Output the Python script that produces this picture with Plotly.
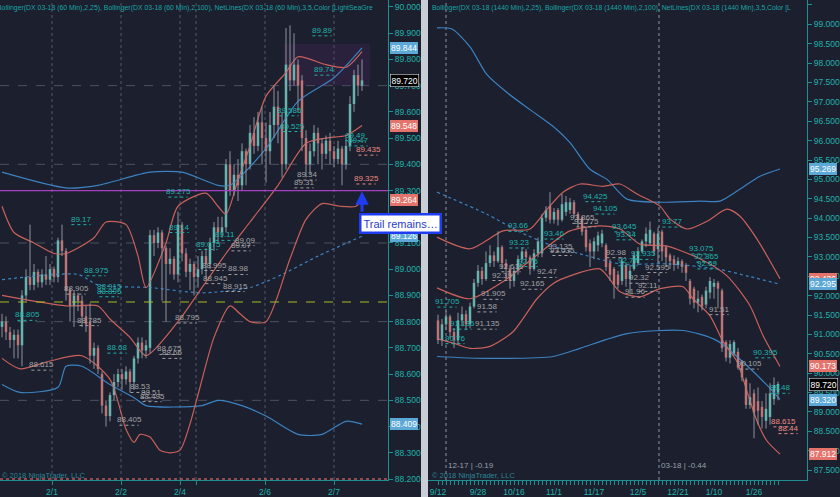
import plotly.graph_objects as go

# ---------------- LEFT PANEL DATA (DX 03-18, 60 Min) ----------------
L_open = [88.78,88.80,88.76,88.73,88.75,88.71,88.90,88.97,88.94,88.99,
          88.95,88.98,88.96,89.00,88.97,89.11,89.07,88.92,88.86,88.90,
          88.88,88.82,88.80,88.67,88.70,88.60,88.48,88.44,88.52,88.57,
          88.60,88.58,88.61,88.57,88.66,88.72,88.69,88.70,89.13,89.10,
          89.14,89.08,89.02,89.04,88.98,89.17,89.06,88.99,89.02,88.97,
          89.00,89.05,89.02,89.10,89.16,89.14,89.16,89.40,89.30,89.36,
          89.32,89.45,89.40,89.52,89.47,89.56,89.50,89.45,89.55,89.62,
          89.55,89.40,89.78,89.72,89.78,89.72,89.50,89.40,89.45,89.52,
          89.48,89.44,89.49,89.45,89.42,89.46,89.40,89.47,89.63,89.74,
          89.70]
L_high = [88.83,88.82,88.78,88.77,88.77,88.92,89.00,89.17,89.02,89.00,
          89.00,89.05,89.02,89.01,89.12,89.17,89.08,88.93,88.92,88.91,
          88.90,88.86,88.87,88.72,88.71,88.61,88.50,88.53,88.60,88.62,
          88.62,88.63,88.62,88.67,88.74,88.74,88.73,89.15,89.15,89.16,
          89.15,89.09,89.08,89.05,89.22,89.18,89.08,89.04,89.03,89.05,
          89.07,89.08,89.12,89.18,89.20,89.20,89.42,89.45,89.40,89.42,
          89.48,89.46,89.55,89.58,89.60,89.62,89.56,89.60,89.70,89.68,
          89.60,89.92,89.93,89.90,89.80,89.74,89.53,89.48,89.55,89.54,
          89.50,89.51,89.52,89.47,89.49,89.47,89.50,89.66,89.76,89.78,
          89.80]
L_low = [88.74,88.73,88.70,88.66,88.66,88.63,88.88,88.92,88.92,88.93,
         88.93,88.94,88.94,88.95,88.95,89.05,88.88,88.80,88.78,88.84,
         88.78,88.76,88.64,88.62,88.60,88.45,88.40,88.42,88.50,88.55,
         88.54,88.56,88.53,88.54,88.64,88.66,88.66,88.68,89.05,89.08,
         88.88,88.80,88.98,88.96,88.95,89.03,88.97,88.92,88.90,88.93,
         88.98,88.96,89.00,89.07,89.10,89.12,89.14,89.28,89.28,89.26,
         89.30,89.32,89.38,89.44,89.45,89.40,89.33,89.40,89.50,89.48,
         89.35,89.38,89.68,89.70,89.60,89.45,89.35,89.36,89.43,89.40,
         89.38,89.42,89.40,89.39,89.40,89.32,89.38,89.45,89.60,89.66,
         89.68]
L_close = [88.80,88.76,88.73,88.75,88.71,88.90,88.97,88.94,88.99,88.95,
           88.98,88.96,89.00,88.97,89.11,89.07,88.92,88.86,88.90,88.88,
           88.82,88.79,88.67,88.70,88.62,88.48,88.44,88.52,88.57,88.60,
           88.58,88.61,88.57,88.66,88.72,88.69,88.71,89.13,89.10,89.14,
           89.08,89.02,89.04,88.98,89.17,89.06,88.99,89.02,88.97,89.00,
           89.05,89.02,89.10,89.16,89.14,89.16,89.40,89.30,89.36,89.32,
           89.45,89.40,89.52,89.47,89.56,89.50,89.45,89.55,89.62,89.55,
           89.40,89.78,89.72,89.78,89.70,89.50,89.40,89.45,89.52,89.48,
           89.44,89.49,89.45,89.42,89.46,89.40,89.47,89.63,89.74,89.70,
           89.72]

# Bollinger(25) upper / middle / lower, Bollinger(100) upper / middle / lower
L_bb25u_x = [0,3,8,13,16,23,26,31,34,36,41,44,51,54,56,59,62,66,71,74,81,86,90]
L_bb25u_y = [89.24,89.14,89.10,89.06,89.06,89.12,89.18,89.17,89.05,88.93,89.10,89.24,
             89.29,89.24,89.21,89.34,89.47,89.66,89.75,89.81,89.78,89.77,89.83]
L_bb25m_x = [0,16,24,27,32,36,44,50,56,62,69,76,81,86,90]
L_bb25m_y = [88.90,88.86,88.86,88.81,88.74,88.67,88.80,88.93,89.06,89.18,89.32,89.48,89.50,89.51,89.548]
L_bb25l_x = [0,4.5,12,20,27,31,33,34.5,37,39.5,42,44.5,47,49.5,53,57,59.5,62,66,72,76,80,84.5,88.5,90]
L_bb25l_y = [88.66,88.62,88.65,88.67,88.58,88.39,88.34,88.37,88.36,88.31,88.30,88.31,88.41,
             88.55,88.74,88.86,88.83,88.80,88.80,89.04,89.19,89.25,89.24,89.24,89.264]
L_bb100u_x = [0,16,24,37,45,54,57,66,74,83,90]
L_bb100u_y = [89.37,89.31,89.32,89.37,89.37,89.32,89.32,89.46,89.64,89.73,89.844]
L_bb100m_x = [0,19,24,37,50,62,70,79,90]
L_bb100m_y = [88.96,88.98,88.94,88.93,88.91,88.93,88.98,89.05,89.126]
L_bb100l_x = [0,4.5,14,16,20,27,33,36,50,54,60,66,74,80,86,90]
L_bb100l_y = [88.56,88.53,88.55,88.63,88.63,88.56,88.51,88.48,88.48,88.50,88.48,88.44,
              88.37,88.37,88.42,88.409]

L_levels_grid = [89.7, 89.4, 89.1, 88.8, 88.5]
L_trail = 89.30
L_yellow = 88.875
L_red_floor = 88.20

L_tick_pos = [12.5, 29.75, 44.5, 48.5, 65.75, 83]
L_tick_txt = ["2/1", "2/2", "2/4", "", "2/6", "2/7"]

L_lbl_text = ["89.89","89.74","89.585","89.525","89.49","89.47","89.275","89.17","89.14","89.11",
              "89.075","88.975","88.915","88.895","88.805","88.68",
              "89.34","89.31","89.09","89.07","88.98","88.995","88.945","88.915","88.905","88.785",
              "88.795","88.615","88.675","88.66","88.53","88.51","88.495","88.405",
              "89.435","89.325"]
L_lbl_x = [80,80.5,71.75,72.5,88.25,89,44,19.75,44.25,55.75,
           51.5,23.5,26.75,26.75,6.25,28.75,
           76.25,75.5,60.75,59.75,59,53,53.25,58.25,18.5,21.75,
           46.25,9.75,41.75,42.5,34.5,37.25,37.5,31.75,
           91.5,91]
L_lbl_kind = ["t"]*16 + ["g"]*18 + ["s"]*2

L_tag_val = [89.844, 89.720, 89.548, 89.264, 89.126, 88.409]
L_tag_kind = ["b", "k", "s", "s", "b", "b"]

# ---------------- RIGHT PANEL DATA (DX 03-18, 1440 Min) ----------------
R_open = [91.36,90.85,91.26,91.46,91.06,90.85,91.36,91.52,91.26,91.72,
          92.33,92.64,92.43,92.84,93.04,92.89,93.25,92.84,92.69,92.38,
          92.64,92.94,93.14,92.99,92.69,93.09,93.09,94.01,94.31,93.96,
          94.21,93.96,94.16,94.21,94.41,94.11,94.01,93.70,93.35,93.14,
          93.30,93.35,93.30,92.84,92.69,92.54,92.38,92.79,92.43,92.69,
          92.84,93.14,93.40,93.35,93.60,93.20,93.65,93.25,93.04,92.94,
          92.79,92.89,92.79,92.38,92.18,91.82,91.97,91.77,92.08,92.23,
          92.33,92.13,90.80,90.40,90.50,90.55,90.29,89.84,89.18,89.48,
          89.28,89.13,88.77,88.87,89.33,89.50]
R_high = [91.51,91.40,91.61,91.51,91.16,91.56,91.72,91.62,91.82,92.43,
          92.79,92.74,93.14,93.30,93.14,93.66,93.30,92.94,92.79,92.74,
          93.04,93.25,93.20,93.04,93.20,93.50,94.11,94.31,94.67,94.26,
          94.26,94.62,94.57,94.52,94.47,94.16,94.06,93.76,93.45,93.50,
          93.65,93.70,93.35,92.94,92.74,92.64,92.99,92.84,92.79,93.14,
          93.25,93.45,93.76,93.91,93.65,93.76,93.70,93.30,93.09,93.04,
          92.99,92.94,92.84,92.43,92.23,92.13,92.03,92.23,92.48,92.43,
          92.38,92.18,90.85,90.85,90.85,90.65,90.34,89.89,89.74,89.58,
          89.63,89.28,89.48,89.74,89.89,89.78]
R_low = [90.75,90.70,91.11,90.90,90.65,90.75,91.21,91.11,91.16,91.67,
         92.23,92.28,92.38,92.74,92.74,92.84,92.69,92.43,92.18,92.23,
         92.54,92.84,92.84,92.54,92.64,92.99,92.99,93.91,93.86,93.86,
         93.81,93.91,94.06,94.11,94.01,93.76,93.55,93.14,92.74,92.94,
         93.14,93.25,92.64,92.38,91.92,92.18,92.28,92.23,92.03,92.64,
         92.79,93.09,93.25,93.30,93.04,92.84,92.89,92.74,92.69,92.64,
         92.69,92.59,92.38,91.77,91.67,91.57,91.62,91.67,91.92,91.92,
         91.67,90.55,90.30,90.25,90.45,90.09,89.79,89.08,89.08,88.32,
         88.67,88.57,88.57,88.67,89.18,89.30]
R_close = [90.85,91.26,91.46,91.06,90.85,91.36,91.52,91.26,91.72,92.33,
           92.64,92.43,92.84,93.04,92.89,93.25,92.84,92.69,92.38,92.64,
           92.94,93.14,92.99,92.69,93.09,93.40,94.01,94.21,93.96,94.16,
           93.96,94.36,94.41,94.41,94.11,93.96,93.65,93.25,93.14,93.40,
           93.55,93.60,92.74,92.54,92.28,92.28,92.89,92.43,92.64,93.04,
           93.14,93.40,93.60,93.70,93.14,93.60,93.14,92.99,92.89,92.79,
           92.89,92.74,92.59,91.92,91.82,91.92,91.72,92.13,92.38,92.33,
           92.18,90.65,90.40,90.75,90.80,90.14,89.89,89.18,89.38,88.98,
           89.03,88.87,89.08,89.48,89.69,89.72]
R_first_bar = 2

R_bb25u_x = [1.75,10,18.25,25,29.25,33.25,37.5,43.25,47.5,51.75,57.5,60,64.25,69.25,74.25,77.5,81.75,87.5]
R_bb25u_y = [93.51,93.21,93.67,93.72,94.23,94.67,94.88,94.82,94.88,94.62,94.31,93.98,93.72,
             93.92,94.23,94.05,93.46,92.436]
R_bb25m_x = [1.75,10,18.25,26.75,35,42.5,47.5,52.5,59.25,67.5,74.25,80,83.25,87.5]
R_bb25m_y = [92.20,91.92,92.36,93.05,93.67,93.80,93.72,93.33,93.28,92.95,92.51,91.74,90.97,90.173]
R_bb25l_x = [1.75,6.25,10,15,20.75,26.75,30.75,35,42.5,47.5,52.5,57.5,63.25,65.75,70,73.25,
             76.75,79.25,81.75,84.25,87.5]
R_bb25l_y = [90.89,90.76,90.64,90.69,91.07,91.92,92.31,92.51,92.69,92.10,91.97,92.18,92.23,
             91.92,91.48,90.82,90.30,89.53,88.76,88.25,87.912]
R_bb100u_x = [1.75,5.5,10,14.25,19.25,25,30.75,35,40,44.25,49.25,57.5,67.5,72.5,77.5,82.5,87.5]
R_bb100u_y = [98.91,98.88,98.42,97.70,97.24,96.80,96.37,95.95,95.26,95.00,94.49,94.41,94.44,
              94.44,94.75,95.08,95.269]
R_bb100m_x = [1.75,14.25,22.5,30.75,39.25,47.5,59.25,71.75,80,87.5]
R_bb100m_y = [94.67,94.10,93.64,93.28,93.03,92.82,92.82,92.69,92.49,92.295]
R_bb100l_x = [1.75,14.25,30.75,37.5,49.25,63.25,71.75,80,84.25,87.5]
R_bb100l_y = [90.43,90.38,90.43,90.64,91.02,91.10,90.84,90.12,89.69,89.32]

R_tick_pos = [2, 12, 21, 31, 41, 52, 62, 71, 81]
R_tick_txt = ["9/12", "9/28", "10/16", "11/1", "11/17", "12/5", "12/21", "1/10", "1/26"]
R_roll_pos = [4, 57.25]
R_roll_txt = ["12-17 | -0.19", "03-18 | -0.44"]

R_lbl_text = ["94.425","94.105","93.66","93.46","93.645","93.44","93.23","92.935","92.77","91.705",
              "93.77","93.075","92.865","92.69","90.395","89.48","92.75","91.135","90.76",
              "93.865","93.775","93.135","93.035","92.98","92.615","92.39","92.47","92.165","92.32",
              "92.11","91.96","92.595","91.905","91.58","91.135","91.51","90.105",
              "88.615","88.44"]
R_lbl_x = [41.25,43.75,22,31,48.5,49,22.25,53.25,49.5,4.25,
           60.5,67.75,69,69.25,83.75,87.5,24.5,8,6.25,
           38,39,32.5,33,46.5,20.25,18,29.25,25.5,52.25,
           54.5,51.25,56.75,15.75,14.25,14.25,72.25,79.75,
           88.25,89.5]
R_lbl_kind = ["t"]*19 + ["g"]*18 + ["s"]*2

R_tag_val = [95.269, 92.436, 92.295, 90.173, 89.720, 89.320, 87.912]
R_tag_kind = ["b", "s", "b", "s", "k", "b", "s"]

# ---------------- STYLE ----------------
BG = "#1b1f2e"
TEAL = "#20b2aa"
AXC = "#1f8f8f"
GRAYTXT = "#a3a3a3"
SALMON = "#ec8a84"
UP = "#4fcdbd"
DOWN = "#dc5f5c"
WICK = "#8d939b"
RED_BB = "#c9615b"
BLUE_BB = "#3c82c0"
FONT = "Liberation Sans, Arial, sans-serif"
W, H = 840, 497
LBL_COL = {"t": TEAL, "g": GRAYTXT, "s": SALMON}
TAG_COL = {"b": "#5ca8d6", "s": "#e4736c", "k": "#000000"}

fig = go.Figure()


def add_panel(xs, o, h, l, c, xa, ya):
    wx, wy = [], []
    for xi, hi, lo in zip(xs, h, l):
        wx += [xi, xi, None]
        wy += [lo, hi, None]
    fig.add_trace(go.Scatter(x=wx, y=wy, mode="lines", line=dict(color=WICK, width=1),
                             xaxis=xa, yaxis=ya, hoverinfo="skip"))
    cols = [UP if ci >= oi else DOWN for oi, ci in zip(o, c)]
    fig.add_trace(go.Bar(x=xs, y=[ci - oi for oi, ci in zip(o, c)], base=o, width=0.62,
                         marker=dict(color=cols, line=dict(width=0)), xaxis=xa, yaxis=ya,
                         hoverinfo="skip"))


def add_line(x, y, color, xa, ya, dash="solid", width=1.2):
    fig.add_trace(go.Scatter(x=x, y=y, mode="lines",
                             line=dict(color=color, width=width, dash=dash, shape="spline", smoothing=0.7),
                             xaxis=xa, yaxis=ya, hoverinfo="skip"))


# ----- lines first -----
add_line(L_bb100u_x, L_bb100u_y, BLUE_BB, "x", "y")
add_line(L_bb100m_x, L_bb100m_y, BLUE_BB, "x", "y", dash="dot")
add_line(L_bb100l_x, L_bb100l_y, BLUE_BB, "x", "y")
add_line(L_bb25u_x, L_bb25u_y, RED_BB, "x", "y")
add_line(L_bb25m_x, L_bb25m_y, RED_BB, "x", "y")
add_line(L_bb25l_x, L_bb25l_y, RED_BB, "x", "y")

add_line(R_bb100u_x, R_bb100u_y, BLUE_BB, "x2", "y2")
add_line(R_bb100m_x, R_bb100m_y, BLUE_BB, "x2", "y2", dash="dot")
add_line(R_bb100l_x, R_bb100l_y, BLUE_BB, "x2", "y2")
add_line(R_bb25u_x, R_bb25u_y, RED_BB, "x2", "y2")
add_line(R_bb25m_x, R_bb25m_y, RED_BB, "x2", "y2")
add_line(R_bb25l_x, R_bb25l_y, RED_BB, "x2", "y2")

L_x = list(range(len(L_close)))
R_x = list(range(R_first_bar, R_first_bar + len(R_close)))
add_panel(L_x, L_open, L_high, L_low, L_close, "x", "y")
add_panel(R_x, R_open, R_high, R_low, R_close, "x2", "y2")

shapes = []
annos = []

# ----- left panel reference lines -----
for lv in L_levels_grid:
    shapes.append(dict(type="line", xref="x domain", yref="y", x0=0, x1=1, y0=lv, y1=lv,
                       line=dict(color="#4d5262", width=1, dash="dash"), layer="below"))
for tp in L_tick_pos:
    shapes.append(dict(type="line", xref="x", yref="y domain", x0=tp, x1=tp, y0=0, y1=1,
                       line=dict(color="#555b6b", width=1, dash="dot"), layer="below"))
shapes.append(dict(type="line", xref="x domain", yref="y", x0=0, x1=1, y0=L_trail, y1=L_trail,
                   line=dict(color="#a43fbf", width=1.3)))
shapes.append(dict(type="line", xref="x domain", yref="y", x0=0, x1=1, y0=L_yellow, y1=L_yellow,
                   line=dict(color="#a9bb22", width=1, dash="dash")))
shapes.append(dict(type="line", xref="x domain", yref="y", x0=0, x1=1, y0=L_red_floor, y1=L_red_floor,
                   line=dict(color="#b65a5a", width=1.5, dash="dot")))
# faint NetLines zone
shapes.append(dict(type="rect", xref="x", yref="y", x0=70.5, x1=92, y0=89.70, y1=89.86,
                   fillcolor="rgba(95,45,120,0.22)", line=dict(width=0), layer="below"))

# ----- right panel rollover lines -----
for rp in R_roll_pos:
    shapes.append(dict(type="line", xref="x2", yref="y2 domain", x0=rp, x1=rp, y0=0, y1=1,
                       line=dict(color="#8e95a3", width=1, dash="dot"), layer="below"))
for rp, rt in zip(R_roll_pos, R_roll_txt):
    annos.append(dict(xref="x2", yref="y2 domain", x=rp, y=0.031, text=rt, showarrow=False,
                      xanchor="left", yanchor="middle", font=dict(family=FONT, size=8, color="#9aa0a8")))


# ----- NetLines level labels -----
def add_labels(texts, xs, kinds, xr, yr):
    for t, xv, k in zip(texts, xs, kinds):
        v = float(t)
        col = LBL_COL[k]
        annos.append(dict(xref=xr, yref=yr, x=xv, y=v, text=t, showarrow=False,
                          xanchor="center", yanchor="bottom", yshift=-1,
                          font=dict(family=FONT, size=8, color=col)))
        shapes.append(dict(type="line", xref=xr, yref=yr, x0=xv - 2.4, x1=xv + 2.4, y0=v, y1=v,
                           line=dict(color=col, width=1, dash="dot")))


add_labels(L_lbl_text, L_lbl_x, L_lbl_kind, "x", "y")
add_labels(R_lbl_text, R_lbl_x, R_lbl_kind, "x2", "y2")


# ----- price tags on the axes -----
def add_tags(vals, kinds, xpix, yr):
    for v, k in zip(vals, kinds):
        annos.append(dict(xref="paper", yref=yr, x=xpix / W, y=v, text=f"{v:.3f}", showarrow=False,
                          xanchor="left", yanchor="middle", bgcolor=TAG_COL[k],
                          bordercolor="#ffffff" if k == "k" else TAG_COL[k], borderwidth=0.5 if k == "k" else 0,
                          borderpad=1, font=dict(family=FONT, size=8.5, color="#ffffff")))


add_tags(L_tag_val, L_tag_kind, 390, "y")
add_tags(R_tag_val, R_tag_kind, 809, "y2")

# ----- separator between the two panels -----
shapes.append(dict(type="rect", xref="paper", yref="paper", x0=421 / W, x1=428 / W, y0=-0.04, y1=1.0,
                   fillcolor="#c9ced6", line=dict(width=0), layer="above"))

# ----- headers / copyright -----
annos.append(dict(xref="paper", yref="paper", x=-5 / W, y=1, yshift=-2, xanchor="left", yanchor="top",
                  text="Bollinger(DX 03-18 (60 Min),2,25), Bollinger(DX 03-18 (60 Min),2,100), "
                       "NetLines(DX 03-18 (60 Min),3,5,Color [LightSeaGre",
                  showarrow=False, font=dict(family=FONT, size=6.9, color="#1aa5a5")))
annos.append(dict(xref="paper", yref="paper", x=430 / W, y=1, yshift=-2, xanchor="left", yanchor="top",
                  text="Bollinger(DX 03-18 (1440 Min),2,25), Bollinger(DX 03-18 (1440 Min),2,100), "
                       "NetLines(DX 03-18 (1440 Min),3,5,Color [L",
                  showarrow=False, font=dict(family=FONT, size=6.8, color="#1aa5a5")))
for xp in (0, 430):
    annos.append(dict(xref="paper", yref="paper", x=xp / W, y=0.009, xanchor="left", yanchor="middle",
                      text="© 2018 NinjaTrader, LLC", showarrow=False,
                      font=dict(family=FONT, size=7.5, color="#2c8595")))

# ----- "Trail remains…" callout -----
annos.append(dict(xref="x", yref="y", x=90, y=89.297, ax=0, ay=22, text="", showarrow=True,
                  arrowhead=2, arrowsize=0.9, arrowwidth=3, arrowcolor="#1f3cf0"))
annos.append(dict(xref="paper", yref="paper", x=400 / W, y=(482 - 224.5) / 482, text="Trail remains…",
                  showarrow=False, xanchor="center", yanchor="middle", bgcolor="#ffffff",
                  bordercolor="#1f3cf0", borderwidth=2.5, borderpad=2,
                  font=dict(family=FONT, size=11, color="#1f3cd0")))

axis_common = dict(showgrid=False, zeroline=False, showline=True, linecolor=AXC, linewidth=1,
                   ticks="outside", ticklen=4, tickcolor=AXC,
                   tickfont=dict(family=FONT, size=8.5, color=TEAL), fixedrange=True)

R_all_ticks = list(R_x)
R_all_text = [R_tick_txt[R_tick_pos.index(t)] if t in R_tick_pos else "" for t in R_all_ticks]

fig.update_layout(
    width=W, height=H, autosize=False,
    margin=dict(l=0, r=0, t=0, b=15),
    paper_bgcolor=BG, plot_bgcolor=BG,
    showlegend=False, barmode="overlay",
    xaxis=dict(domain=[0, 388 / W], range=[-0.5, 96.5], anchor="y",
               tickmode="array", tickvals=L_tick_pos, ticktext=L_tick_txt, **axis_common),
    yaxis=dict(domain=[0, 1], range=[88.2 - 1 / 263.3, 90 + 7 / 263.3], anchor="x", side="right",
               tickmode="linear", tick0=88.2, dtick=0.1, tickformat=".3f", **axis_common),
    xaxis2=dict(domain=[428 / W, 807 / W], range=[-0.5, 94.25], anchor="y2",
                tickmode="array", tickvals=R_all_ticks, ticktext=R_all_text, **axis_common),
    yaxis2=dict(domain=[0, 1], range=[87.5 - 10 / 38.92, 99.5 + 5 / 38.92], anchor="x2", side="right",
                tickmode="linear", tick0=87.5, dtick=0.5, tickformat=".3f", **axis_common),
    shapes=shapes, annotations=annos,
)

fig.write_html("out.html", config={"displayModeBar": False},
               post_script="document.body.style.margin='0px';document.body.style.padding='0px';"
                           "document.body.style.background='" + BG + "';")
